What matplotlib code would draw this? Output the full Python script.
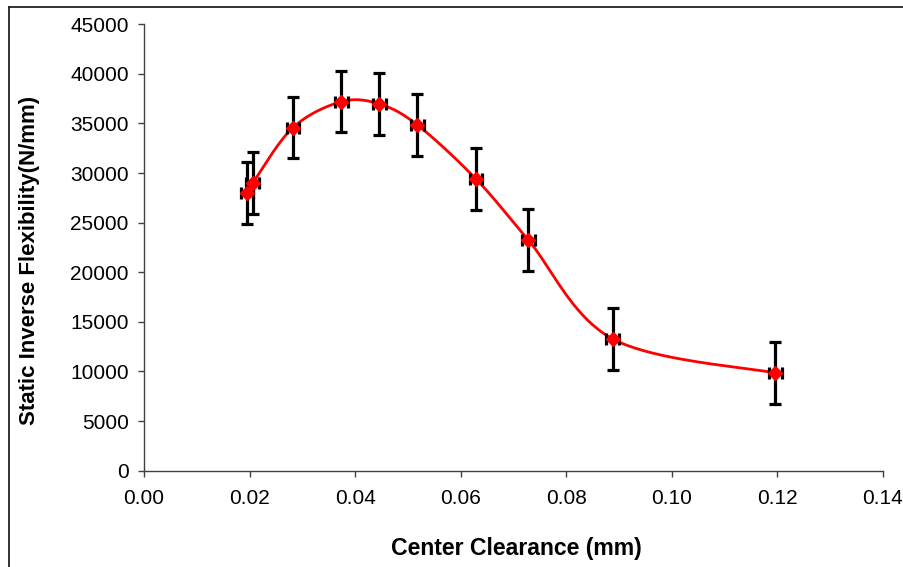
import numpy as np
import matplotlib
matplotlib.use("Agg")
import matplotlib.pyplot as plt
from matplotlib.lines import Line2D

plt.rcParams['font.family'] = ['Liberation Sans', 'DejaVu Sans']

clearance = [0.0195, 0.0206, 0.0282, 0.0374, 0.0446, 0.0518, 0.0629, 0.0728, 0.0888, 0.1196]
flexibility = [28000, 29000, 34580, 37200, 36960, 34850, 29400, 23260, 13280, 9850]
y_err = [3100, 3100, 3100, 3100, 3100, 3100, 3100, 3100, 3100, 3100]
x_err = [0.0012] * 10
x_ticks = [0.00, 0.02, 0.04, 0.06, 0.08, 0.10, 0.12, 0.14]
y_ticks = [0, 5000, 10000, 15000, 20000, 25000, 30000, 35000, 40000, 45000]


def excel_smooth(xs, ys, n=40):
    P = np.column_stack([xs, ys]).astype(float)
    out = []
    m = len(P)
    for i in range(m - 1):
        p0 = P[i - 1] if i > 0 else P[i]
        p1 = P[i]
        p2 = P[i + 1]
        p3 = P[i + 2] if i + 2 < m else P[i + 1]
        c1 = p1 + (p2 - p0) / 6.0
        c2 = p2 - (p3 - p1) / 6.0
        t = np.linspace(0, 1, n)[:, None]
        seg = ((1 - t) ** 3) * p1 + 3 * ((1 - t) ** 2) * t * c1 + 3 * (1 - t) * t ** 2 * c2 + t ** 3 * p2
        out.append(seg if i == 0 else seg[1:])
    out = np.vstack(out)
    return out[:, 0], out[:, 1]


fig = plt.figure(figsize=(9.04, 5.67), dpi=100)
ax = fig.add_axes([144 / 904, 1 - 470.7 / 567, (883 - 144) / 904, (470.7 - 24.3) / 567])

sx, sy = excel_smooth(clearance, flexibility)
ax.plot(sx, sy, color='#ff0000', lw=2.0, zorder=2)
ax.errorbar(clearance, flexibility, yerr=y_err, xerr=x_err, fmt='none',
            ecolor='black', elinewidth=2.3, capsize=4.3, capthick=2.3, zorder=3)
ax.plot(clearance, flexibility, linestyle='none', marker='D', ms=7.5,
        color='#ff0000', mec='#ff0000', zorder=4)

ax.set_xlim(0, 0.14)
ax.set_ylim(0, 45000)
ax.set_xticks(x_ticks)
ax.set_xticklabels([f"{v:.2f}" for v in x_ticks])
ax.set_yticks(y_ticks)
ax.set_yticklabels([str(v) for v in y_ticks])

for s in ['top', 'right']:
    ax.spines[s].set_visible(False)
for s in ['left', 'bottom']:
    ax.spines[s].set_color('#404040')
    ax.spines[s].set_linewidth(1.0)
ax.tick_params(axis='both', direction='out', length=4, width=1.0, color='#404040',
               labelsize=15, labelcolor='black')
ax.tick_params(axis='x', pad=9)
ax.tick_params(axis='y', pad=7)

ax.set_xlabel('Center Clearance (mm)', fontsize=16.6, fontweight='bold')
ax.set_ylabel('Static Inverse Flexibility(N/mm)', fontsize=16, fontweight='bold')
ax.xaxis.set_label_coords((516.5 - 144) / (883 - 144), -(548 - 470.7) / (470.7 - 24.3))
ax.xaxis.label.set_va('center')
ax.yaxis.set_label_coords(-(144 - 30) / (883 - 144), (470.7 - 260) / (470.7 - 24.3))
ax.yaxis.label.set_va('center')

fig.add_artist(Line2D([8.5 / 904, 1.0], [1 - 6.5 / 567, 1 - 6.5 / 567],
                      transform=fig.transFigure, color='#222222', lw=1.3))
fig.add_artist(Line2D([8.5 / 904, 8.5 / 904], [0, 1 - 6.5 / 567],
                      transform=fig.transFigure, color='#222222', lw=1.3))

fig.savefig('out.png', dpi=100)
